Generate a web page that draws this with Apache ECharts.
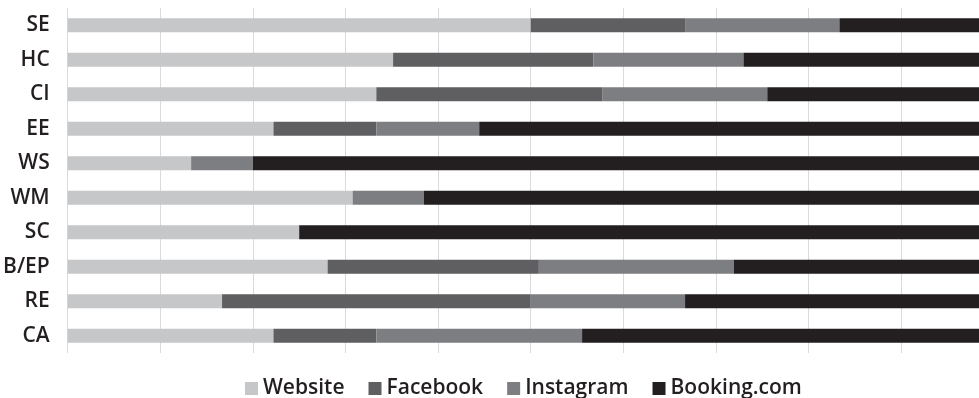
<!DOCTYPE html>
<html>
<head>
<meta charset="utf-8">
<script src="https://cdn.jsdelivr.net/npm/echarts@6/dist/echarts.min.js"></script>
<style>
  html, body { margin: 0; padding: 0; background: #ffffff; }
  #chart { width: 979px; height: 398px; }
</style>
</head>
<body>
<div id="chart"></div>
<script>
// Share of bookings by channel for each venue type (percent of total, rows sum to 100)
const categories = ['SE', 'HC', 'CI', 'EE', 'WS', 'WM', 'SC', 'B/EP', 'RE', 'CA'];
const website   = [50.00, 35.14, 33.33, 22.22, 13.33, 30.77, 25.00, 28.07, 16.67, 22.22];
const facebook  = [16.67, 21.62, 24.44, 11.11,  0.00,  0.00,  0.00, 22.81, 33.33, 11.11];
const instagram = [16.67, 16.22, 17.78, 11.11,  6.67,  7.69,  0.00, 21.05, 16.67, 22.22];
const booking   = [16.67, 27.03, 24.44, 55.56, 80.00, 61.54, 75.00, 28.07, 33.33, 44.44];

const seriesNames = ['Website', 'Facebook', 'Instagram', 'Booking.com'];
const seriesColors = ['#c6c7c9', '#5f5f62', '#7d7e81', '#231f20'];
const seriesValues = [website, facebook, instagram, booking];

const FONT = '"Open Sans", Lato, sans-serif';

// The 100% end of the scale sits just past the right edge of the canvas,
// so the visible axis stops a little short of 100.
const PLOT_LEFT = 67.7;
const FULL_SCALE_PX = 926;
const CANVAS_W = 979;
const visibleMax = 100 * (CANVAS_W - PLOT_LEFT) / FULL_SCALE_PX;

const chart = echarts.init(document.getElementById('chart'), null, { renderer: 'canvas' });

chart.setOption({
  animation: false,
  backgroundColor: '#ffffff',
  textStyle: { fontFamily: FONT },
  grid: { left: PLOT_LEFT, top: 8, right: 0, height: 345, containLabel: false },
  legend: {
    data: seriesNames,
    top: 373,
    left: 240,
    icon: 'rect',
    itemWidth: 13,
    itemHeight: 13,
    itemGap: 24,
    textStyle: { fontFamily: FONT, fontSize: 21, fontWeight: 600, color: '#231f20' }
  },
  xAxis: {
    type: 'value',
    min: 0,
    max: visibleMax,
    interval: 10,
    axisLine: { show: false },
    axisTick: { show: false },
    axisLabel: { show: false },
    splitLine: { show: true, lineStyle: { color: '#dadadc', width: 1 } }
  },
  yAxis: {
    type: 'category',
    data: categories,
    inverse: true,
    axisLine: { show: false },
    axisTick: { show: false },
    axisLabel: {
      margin: 18,
      fontFamily: FONT,
      fontSize: 21,
      fontWeight: 600,
      color: '#231f20'
    }
  },
  series: seriesNames.map((name, i) => ({
    name: name,
    type: 'bar',
    stack: 'total',
    barWidth: 14,
    clip: true,
    itemStyle: { color: seriesColors[i] },
    emphasis: { disabled: true },
    data: seriesValues[i]
  }))
});
</script>
</body>
</html>
